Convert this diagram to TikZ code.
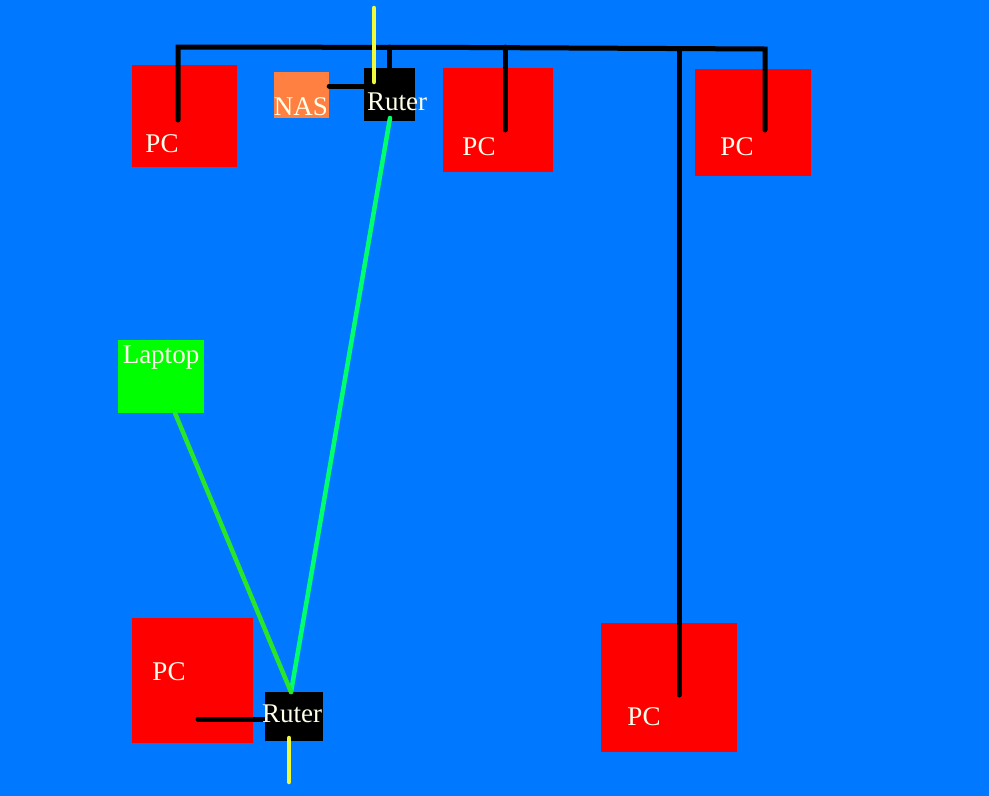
\documentclass[tikz,border=0pt]{standalone}
\usepackage{fontspec}
\setmainfont{Liberation Serif}
\usepackage{tikz}
\usetikzlibrary{positioning, calc}
\definecolor{netblue}{RGB}{0,120,255}
\definecolor{pcred}{RGB}{255,0,0}
\definecolor{nasorange}{RGB}{255,128,64}
\definecolor{lapgreen}{RGB}{0,255,0}
\definecolor{wifigreen}{RGB}{0,255,110}
\definecolor{lapline}{RGB}{40,230,40}
\definecolor{wanyellow}{RGB}{240,250,60}
\definecolor{labelwhite}{RGB}{255,255,235}
\tikzset{
  box/.style={rectangle, inner sep=0pt, draw=none},
  lbl/.style={anchor=base, text=labelwhite, inner sep=0pt, font=\fontsize{27}{30}\selectfont},
  cable/.style={line width=5pt, black, line cap=round},
  wan/.style={line width=4.5pt, wanyellow, line cap=round},
  wifi/.style={line width=4.5pt, wifigreen, line cap=round}
}

\begin{document}
\begin{tikzpicture}[x=1pt, y=-1pt]
    \fill[netblue] (0,0) rectangle (989,796);
    \useasboundingbox (0,0) rectangle (989,796);
    % boxes
    \node[box, fill=pcred, minimum width=105pt, minimum height=102pt] (pcA) at (184.5,116) {};
    \node[box, fill=nasorange, minimum width=55pt, minimum height=46pt] (nas) at (301.5,95) {};
    \node[box, fill=black, minimum width=51pt, minimum height=53pt] (ruterA) at (389.5,94.5) {};
    \node[box, fill=pcred, minimum width=110pt, minimum height=104pt] (pcB) at (498,120) {};
    \node[box, fill=pcred, minimum width=116pt, minimum height=107pt] (pcC) at (753,122.5) {};
    \node[box, fill=lapgreen, minimum width=86pt, minimum height=73pt] (laptop) at (161,376.5) {};
    \node[box, fill=pcred, minimum width=121pt, minimum height=125pt] (pcD) at (192.5,680.5) {};
    \node[box, fill=black, minimum width=58pt, minimum height=49pt] (ruterB) at (294,716.5) {};
    \node[box, fill=pcred, minimum width=136pt, minimum height=129pt] (pcE) at (669,687.5) {};
    % bus and drops
    \coordinate (busL) at (178,47);
    \coordinate (busM) at (472,47.5);
    \coordinate (busR) at (765,49);
    \coordinate (dropA) at (178,120);
    \coordinate (dropB) at (505,130);
    \coordinate (dropC) at (765,130);
    \coordinate (dropE) at (679,695);
    \draw[cable] (dropA) -- (busL) -- (busM) -- (busR) -- (dropC);
    \draw[cable] (ruterA.north) -- (ruterA.north |- busL);
    \draw[cable] (dropB) -- (dropB |- busL);
    \draw[cable] (dropE) -- (dropE |- busR);
    \draw[cable] (nas.east |- 0,86) -- (ruterA.west |- 0,86);
    \coordinate (pcDend) at (198,719);
    \draw[cable] (pcDend) -- (ruterB.west |- pcDend);
    % wan uplinks
    \coordinate (wanA) at (374,8);
    \coordinate (wanB) at (289,782);
    \draw[wan] (wanA) -- (wanA |- 0,82);
    \draw[wan] (wanB |- 0,738) -- (wanB);
    % wireless
    \coordinate (wifiA) at (390,118);
    \coordinate (wifiB) at (291,692);
    \coordinate (lapEnd) at (175,413);
    \draw[wifi] (wifiA) -- (wifiB);
    \draw[line width=4.5pt, lapline, line cap=round] (lapEnd) -- (wifiB);
    % labels
    \node[lbl] (pcAtxt) at (162,152) {PC};
    \node[lbl] (nastxt) at (301,115) {NAS};
    \node[lbl] (ruterAtxt) at (397,110) {Ruter};
    \node[lbl] (pcBtxt) at (479,155) {PC};
    \node[lbl] (pcCtxt) at (737,155) {PC};
    \node[lbl] (laptoptxt) at (161,363) {Laptop};
    \node[lbl] (pcDtxt) at (169,680) {PC};
    \node[lbl] (ruterBtxt) at (292,722) {Ruter};
    \node[lbl] (pcEtxt) at (644,725) {PC};
  \end{tikzpicture}
\end{document}
